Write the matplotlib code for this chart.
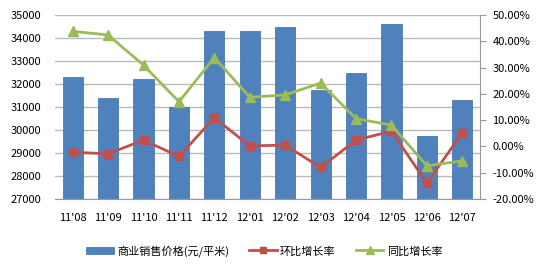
import numpy as np
import matplotlib
matplotlib.use("Agg")
import matplotlib.pyplot as plt
from matplotlib.ticker import FuncFormatter

plt.rcParams['font.family'] = ['Noto Sans CJK SC', 'DejaVu Sans']

months = ["11'08", "11'09", "11'10", "11'11", "11'12", "12'01",
          "12'02", "12'03", "12'04", "12'05", "12'06", "12'07"]
price = [32300, 31400, 32200, 31000, 34300, 34300,
         34500, 31750, 32500, 34600, 29750, 31300]
mom = [-2.2, -2.8, 2.4, -3.8, 10.9, 0.2, 0.5, -8.0, 2.4, 5.8, -14.0, 5.2]     # 环比 %
yoy = [43.8, 42.4, 30.9, 17.0, 33.8, 18.7, 19.6, 24.1, 10.6, 8.1, -7.4, -5.5]  # 同比 %

fig = plt.figure(figsize=(5.39, 2.67), dpi=100)
ax = fig.add_axes([55/539, 1-199/267, 425/539, 184/267])
x = np.arange(len(months))

b = ax.bar(x, price, width=0.57, color="#4F81BD", edgecolor="#3A6CA8", linewidth=0.5,
           label="商业销售价格(元/平米)", zorder=2)
ax.set_ylim(27000, 35000)
ax.set_yticks(np.arange(27000, 35001, 1000))
ax.set_xlim(-0.5, len(months)-0.5)
ax.set_xticks(x)
ax.set_xticklabels(months)
ax.grid(axis="y", color="#BBBBBB", linewidth=1, zorder=0)
ax.set_axisbelow(True)
for s in ["top", "left", "right"]:
    ax.spines[s].set_visible(False)
ax.spines["bottom"].set_color("#999999")
ax.tick_params(axis="y", length=0, labelsize=8, pad=10)
ax.tick_params(axis="x", length=0, labelsize=8, pad=10)

ax2 = ax.twinx()
ax2.set_ylim(-20, 50)
ax2.set_yticks(np.arange(-20, 51, 10))
ax2.yaxis.set_major_formatter(FuncFormatter(lambda v, p: "%.2f%%" % v))
l1, = ax2.plot(x, mom, color="#C0504D", linewidth=2, marker="s", markersize=6,
               label="环比增长率", zorder=3)
l2, = ax2.plot(x, yoy, color="#9BBB59", linewidth=2, marker="^", markersize=6.5,
               label="同比增长率", zorder=3)
for s in ["top", "left", "bottom"]:
    ax2.spines[s].set_visible(False)
ax2.spines["right"].set_color("#999999")
ax2.tick_params(axis="y", direction="out", length=4, color="#999999", labelsize=8, pad=5)

fig.legend(handles=[b, l1, l2], loc="center", bbox_to_anchor=(0.49, 1-251/267),
           ncol=3, frameon=False, fontsize=8, handlelength=2.5, columnspacing=1.8,
           handletextpad=0.3, markerscale=0.8)

fig.savefig("out.png", dpi=100)
